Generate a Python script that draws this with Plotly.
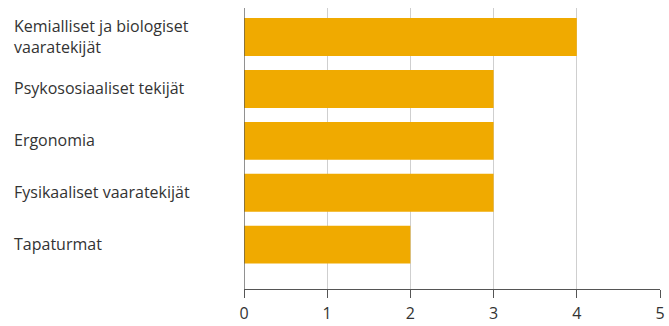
import plotly.graph_objects as go

categories = ["Kemialliset ja biologiset<br>vaaratekijät", "Psykososiaaliset tekijät",
              "Ergonomia", "Fysikaaliset vaaratekijät", "Tapaturmat"]
values = [4, 3, 3, 3, 2]
x_ticks = [0, 1, 2, 3, 4, 5]

FONT = "Open Sans"
TXT = "#333333"
FS = 16

fig = go.Figure()
fig.add_trace(go.Bar(
    x=values, y=categories, orientation="h",
    marker=dict(color="#F0AA00", line=dict(width=0)),
    hoverinfo="skip",
))

for c in categories:
    fig.add_annotation(
        x=-0.558, xref="paper", xanchor="left",
        y=c, yref="y", yanchor="middle", yshift=1,
        text=c, showarrow=False, align="left",
        font=dict(family=FONT, size=FS, color=TXT),
    )

# extension of the x axis line to the left of zero
fig.add_shape(type="line", xref="x", yref="paper", x0=-0.085, x1=0, y0=0, y1=0,
              line=dict(color="#555555", width=1.3))
# y axis line extending below x axis
fig.add_shape(type="line", xref="x", yref="paper", x0=0, x1=0, y0=-0.03, y1=1,
              line=dict(color="#555555", width=1.3))

fig.update_layout(
    width=669, height=326,
    margin=dict(l=244, r=9, t=8, b=37),
    paper_bgcolor="white", plot_bgcolor="white",
    bargap=0.27,
    showlegend=False,
    xaxis=dict(
        range=[0, 5], tickvals=x_ticks, ticktext=[str(v) for v in x_ticks],
        showgrid=True, gridcolor="#cfcfcf", gridwidth=1,
        zeroline=False, showline=True, linecolor="#555555", linewidth=1.3,
        ticks="outside", ticklen=8, tickcolor="#555555", tickwidth=1.3,
        ticklabelstandoff=2, automargin=False,
        tickfont=dict(family=FONT, size=FS, color=TXT),
        fixedrange=True,
    ),
    yaxis=dict(
        type="category", categoryorder="array", categoryarray=categories,
        range=[4.856, -0.56], automargin=False,
        showticklabels=False, showgrid=False, zeroline=False, showline=False,
        ticks="", fixedrange=True,
    ),
)

fig.write_html("out.html")
